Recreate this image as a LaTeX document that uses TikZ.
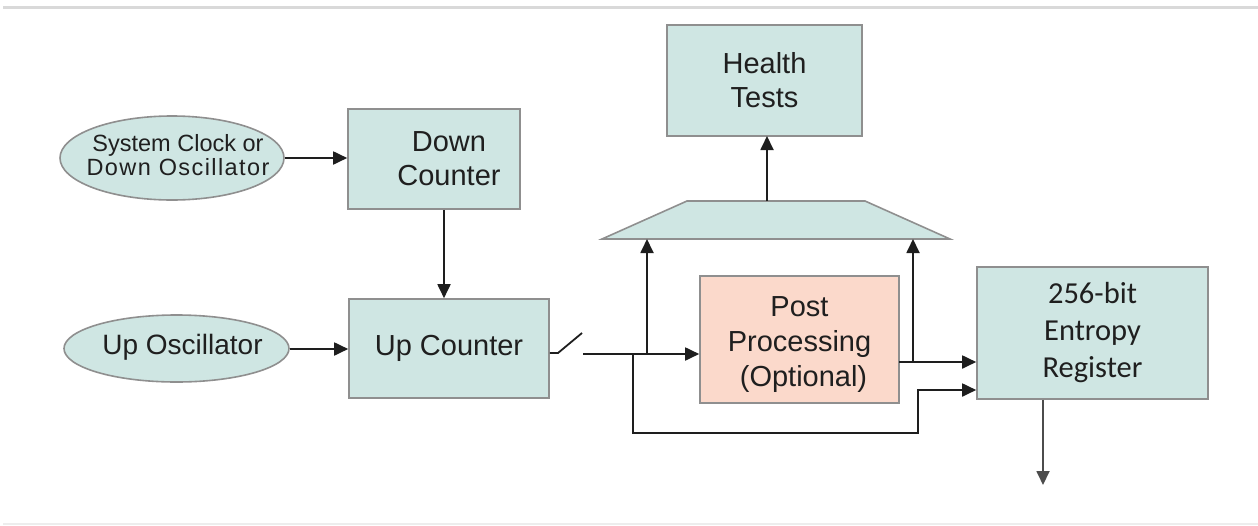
\documentclass[tikz,border=0pt]{standalone}
\usepackage{fontspec}
\setmainfont{Liberation Sans}
\newfontfamily\calib{Carlito}
\usetikzlibrary{arrows.meta,calc,shapes.geometric}
\definecolor{tealfill}{HTML}{CFE6E3}
\definecolor{peachfill}{HTML}{FBD9CB}
\definecolor{edgegray}{HTML}{8F8F8F}
\definecolor{wire}{HTML}{1E1E1E}
% text set in a box of zero width, so it does not widen its ellipse
\newcommand\ovaltext[1]{\makebox[0pt][c]{\begin{tabular}{@{}c@{}}#1\end{tabular}}}
\begin{document}
\begin{tikzpicture}[x=1pt,y=-1pt,
  blk/.style={draw=edgegray,line width=1.6pt,fill=tealfill,inner sep=0pt,
    align=center,text=black!88,font=\fontsize{29}{34}\selectfont},
  oval/.style={ellipse,draw=edgegray,line width=1.6pt,fill=tealfill,inner sep=0pt,
    text=black!88,font=\fontsize{23.5}{21}\selectfont},
  wirestyle/.style={draw=wire,line width=1.8pt},
  arr/.style={wirestyle,-{Triangle[length=14pt,width=13pt]}}]
\useasboundingbox (0,0) rectangle (1258,525);
% frame rules
\draw[draw=black!15,line width=3pt] (3,7) -- (1258,7);
\draw[draw=black!7,line width=2pt] (3,524) -- (1258,524);

% clock sources
\node[oval,minimum width=224pt,minimum height=84pt] (sysclk) at (172,158)
  {\ovaltext{\hspace*{12pt}System Clock or\\
   \hspace*{12pt}{\addfontfeature{LetterSpace=6}Down Oscillator}}};
\node[oval,minimum width=225pt,minimum height=67pt,font=\fontsize{28}{28}\selectfont] (uposc) at (176.5,348.5)
  {\raisebox{-3pt}{\ovaltext{\hspace*{12pt}Up Oscillator}}};

% counters
\node[blk,minimum width=172pt,minimum height=100pt] (down) at (434,159)
  {\hspace*{30pt}Down\\\hspace*{30pt}Counter};
\node[blk,minimum width=200pt,minimum height=99pt] (up) at (449,348.5) {Up Counter};

% post processing and register
\node[blk,fill=peachfill,minimum width=199pt,minimum height=127pt,font=\fontsize{29}{35}\selectfont] (post) at (799.5,339.5)
  {\rule{0pt}{31pt}Post\\Processing\hspace*{16pt}\\\hspace*{8pt}(Optional)};
\node[blk,minimum width=231pt,minimum height=132pt,font=\calib\fontsize{30.5}{37}\selectfont] (reg) at (1092.5,333)
  {256-bit\\Entropy\\Register};
\node[blk,minimum width=195pt,minimum height=111pt] (health) at (764.5,80.5) {Health\\Tests};

% multiplexer
\coordinate (muxbl) at (602,239);
\coordinate (muxbr) at (950,239);
\coordinate (muxtop) at (767,201);
\draw[draw=edgegray,line width=1.6pt,fill=tealfill]
  (muxbl) -- (687,201) -- (865,201) -- (muxbr) -- cycle;

% connectors
\coordinate (osclevel) at (0,349);
\draw[arr] (sysclk.east) -- (down.west |- sysclk.east);
\draw[arr] ($(down.south)+(10,0)$) -- ($(up.north)+(-5,0)$);
\draw[arr] (uposc.east |- osclevel) -- (up.west |- osclevel);

% switch at the counter output
\coordinate (swA) at (558,353);
\coordinate (swB) at (582,333);
\coordinate (swC) at (583,354);
\coordinate (regin2) at (975,390);
\coordinate (healthin) at (767,136);
\draw[wirestyle] (up.east |- swA) -- (swA) -- (swB);
\coordinate (j1) at (633,354);
\coordinate (j2) at (647,354);
\draw[arr] (swC) -- (post.west |- swC);
\draw[arr] (j2) -- (j2 |- muxbl);
\draw[arr] (j1) -- (633,433) -- (918,433) -- (918,390) -- (reg.west |- regin2);

\coordinate (pout) at (899,362);
\coordinate (j3) at (913,362);
\draw[arr] (pout) -- (reg.west |- pout);
\draw[arr] (j3) -- (j3 |- muxbr);

\draw[arr] (muxtop) -- (healthin);
\draw[arr,draw=black!70] ($(reg.south)+(-49.5,0)$) -- (1043,485);
\end{tikzpicture}
\end{document}
